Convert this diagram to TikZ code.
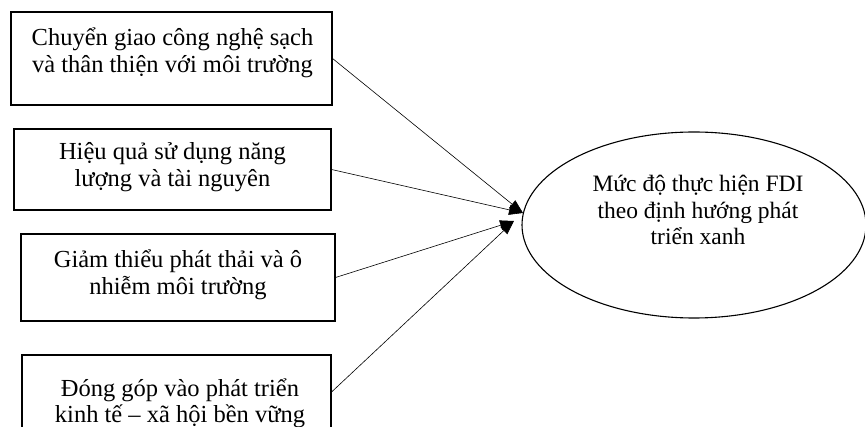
\documentclass[tikz,border=0pt]{standalone}
\usepackage{fontspec}
\setmainfont{Liberation Serif}
\usetikzlibrary{shapes.geometric,arrows.meta}

\tikzset{
  factor/.style={draw=black, line width=1.1pt, inner sep=0pt},
  goalshape/.style={draw=black, line width=1.1pt, ellipse, inner sep=0pt,
    minimum width=344pt, minimum height=186pt},
  boxtxt/.style={align=center, inner sep=0pt, font=\fontsize{24.5pt}{26.5pt}\selectfont},
  txt/.style={align=center, inner sep=0pt, font=\fontsize{23.5pt}{26.5pt}\selectfont},
  link/.style={draw=black, line width=0.6pt, -{Triangle[length=14pt,width=10pt]}}
}

\begin{document}
\begin{tikzpicture}[x=1pt, y=-1pt]
  \useasboundingbox (0,0) rectangle (865,427);

  % influencing factors
  \node[factor, minimum width=321pt, minimum height=93pt] (f1) at (171.5,58.5) {};
  \node[boxtxt] (t1) at (172.5,53) {Chuyển giao công nghệ sạch\\và thân thiện với môi trường};

  \node[factor, minimum width=317pt, minimum height=81pt] (f2) at (172.5,169.5) {};
  \node[boxtxt] (t2) at (172.5,167) {Hiệu quả sử dụng năng\\lượng và tài nguyên};

  \node[factor, minimum width=314pt, minimum height=87pt] (f3) at (178,277.5) {};
  \node[boxtxt] (t3) at (178,275) {Giảm thiểu phát thải và ô\\nhiễm môi trường};

  \node[factor, minimum width=309pt, minimum height=74pt] (f4) at (176.5,392) {};
  \node[boxtxt] (t4) at (180,403.5) {Đóng góp vào phát triển\\kinh tế – xã hội bền vững};

  % outcome
  \node[goalshape] (goal) at (694,225) {};
  \node[txt] (gt) at (698,210) {Mức độ thực hiện FDI\\theo định hướng phát\\triển xanh};

  % arrow targets at the left rim of the outcome
  \coordinate (tipA) at (523,213);
  \coordinate (tipB) at (514,221);

  \draw[link] (f1.east) -- (tipA);
  \draw[link] (f2.east) -- (tipA);
  \draw[link] (f3.east) -- (tipB);
  \draw[link] (f4.east) -- (tipB);
\end{tikzpicture}
\end{document}
